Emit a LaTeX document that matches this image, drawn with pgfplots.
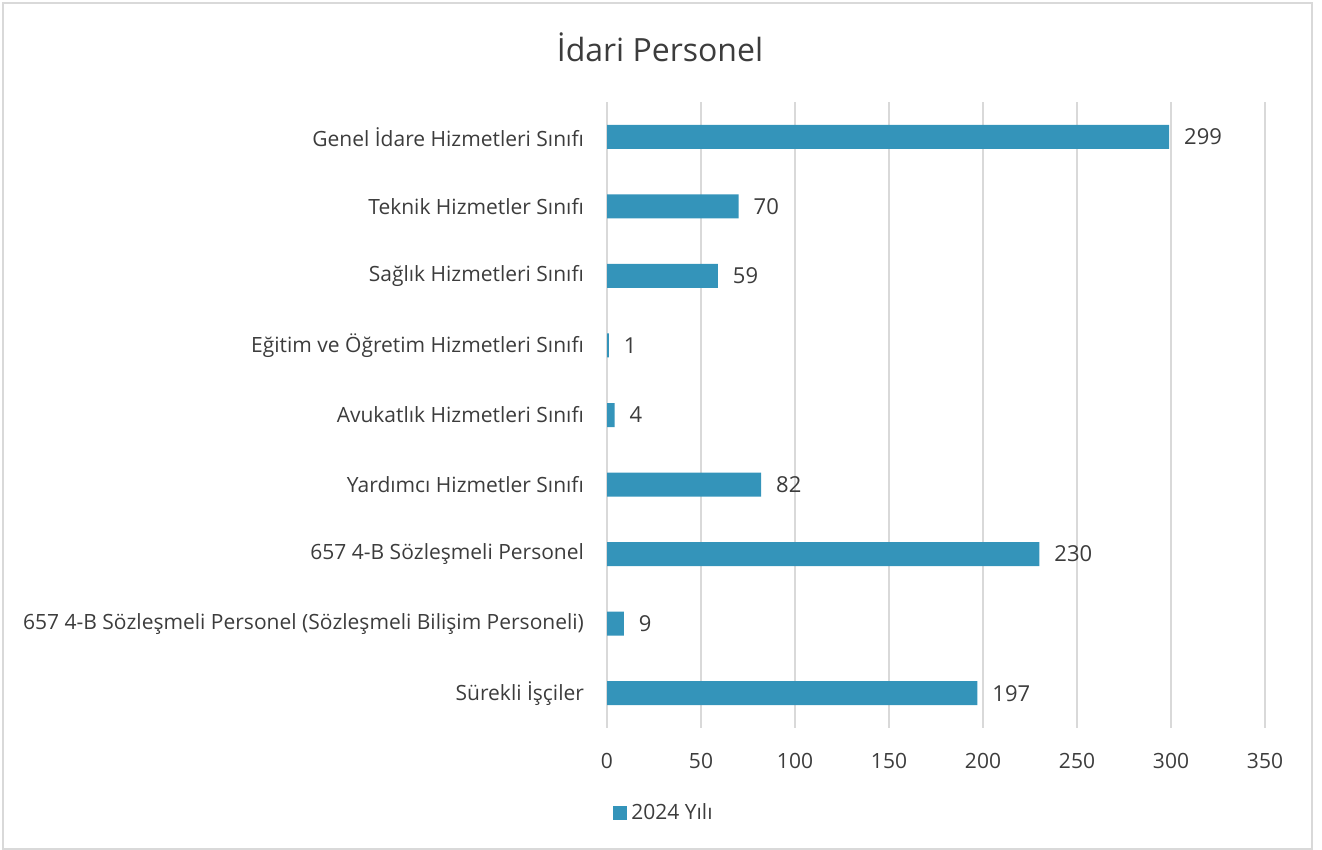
\documentclass[border=0pt]{standalone}
\usepackage{fontspec}
\setmainfont{Open Sans}
\usepackage{pgfplots}
\pgfplotsset{compat=1.18}
\definecolor{barblue}{RGB}{52,148,186}
\definecolor{txt}{RGB}{60,60,60}
\definecolor{gridgray}{RGB}{217,217,217}

\begin{document}
\begin{tikzpicture}[x=1pt,y=1pt]
\path[use as bounding box] (0,0) rectangle (661,425);
\draw[gridgray, line width=0.8pt] (1.5,0.5) rectangle (656,423.5);
\node[font=\fontsize{16}{19}\selectfont, text=txt] at (330,401.5) {İdari Personel};
\begin{axis}[
    at={(303.5pt,61pt)}, anchor=south west,
    scale only axis,
    width=329pt, height=313pt,
    xbar, bar width=12pt,
    xmin=0, xmax=350,
    ymin=-0.5, ymax=8.5,
    y dir=reverse,
    xtick={0,50,...,350},
    ytick={0,...,8},
    yticklabels={Genel İdare Hizmetleri Sınıfı, Teknik Hizmetler Sınıfı, Sağlık Hizmetleri Sınıfı, Eğitim ve Öğretim Hizmetleri Sınıfı, Avukatlık Hizmetleri Sınıfı, Yardımcı Hizmetler Sınıfı, 657 4-B Sözleşmeli Personel, 657 4-B Sözleşmeli Personel (Sözleşmeli Bilişim Personeli), Sürekli İşçiler},
    axis line style={draw=none},
    major tick length=0pt,
    xmajorgrids,
    grid style={gridgray, line width=0.8pt},
    tick label style={font=\fontsize{10.5}{12}\selectfont, text=txt},
    xticklabel style={yshift=-9pt},
    yticklabel style={xshift=-8pt},
    /pgf/number format/assume math mode=true,
    nodes near coords,
    nodes near coords style={font=\fontsize{11}{13}\selectfont, text=txt, anchor=west, xshift=4pt},
    legend style={at={(rel axis cs:0,0)}, anchor=west, xshift=3pt, yshift=-42.5pt, draw=none, fill=none, inner sep=0pt, font=\fontsize{10.5}{12}\selectfont, text=txt},
    legend image code/.code={\fill[barblue] (0pt,-3.5pt) rectangle (7pt,3.5pt);},
]
\addplot[fill=barblue, draw=none] coordinates {
    (299,0) (70,1) (59,2) (1,3) (4,4) (82,5) (230,6) (9,7) (197,8)
};
\addlegendentry{2024 Yılı}
\end{axis}
\end{tikzpicture}
\end{document}
